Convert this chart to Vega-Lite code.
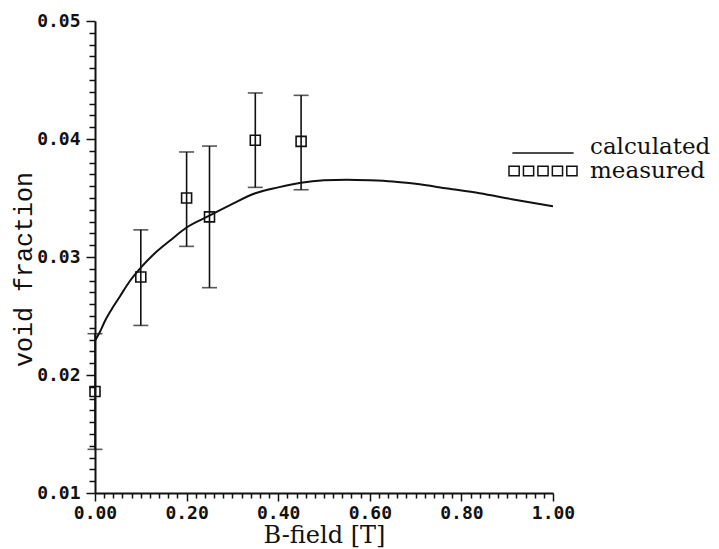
{
  "$schema": "https://vega.github.io/schema/vega-lite/v6.json",
  "width": 458,
  "height": 472,
  "autosize": {"type": "none"},
  "padding": {"left": 95, "top": 21, "right": 166, "bottom": 56},
  "background": "white",
  "datasets": {
    "calc": [
      {"B": 0.0, "v": 0.0229},
      {"B": 0.01, "v": 0.0236},
      {"B": 0.022, "v": 0.0246},
      {"B": 0.04, "v": 0.0258},
      {"B": 0.055, "v": 0.0267},
      {"B": 0.075, "v": 0.0279},
      {"B": 0.1, "v": 0.0291},
      {"B": 0.13, "v": 0.0303},
      {"B": 0.164, "v": 0.0314},
      {"B": 0.2, "v": 0.0325},
      {"B": 0.25, "v": 0.0335},
      {"B": 0.3, "v": 0.0345},
      {"B": 0.35, "v": 0.0354},
      {"B": 0.4, "v": 0.0359},
      {"B": 0.45, "v": 0.0363},
      {"B": 0.5, "v": 0.0365},
      {"B": 0.55, "v": 0.03655},
      {"B": 0.6, "v": 0.0365},
      {"B": 0.65, "v": 0.0364},
      {"B": 0.7, "v": 0.0362},
      {"B": 0.77, "v": 0.0358},
      {"B": 0.84, "v": 0.0354},
      {"B": 0.91, "v": 0.0349},
      {"B": 1.0, "v": 0.0343}
    ],
    "meas": [
      {"B": 0.0, "v": 0.0186, "lo": 0.0137, "hi": 0.0235},
      {"B": 0.1, "v": 0.0283, "lo": 0.0242, "hi": 0.0323},
      {"B": 0.2, "v": 0.035, "lo": 0.0309, "hi": 0.0389},
      {"B": 0.25, "v": 0.0334, "lo": 0.0274, "hi": 0.0394},
      {"B": 0.35, "v": 0.0399, "lo": 0.0359, "hi": 0.0439},
      {"B": 0.45, "v": 0.0398, "lo": 0.0357, "hi": 0.0437}
    ]
  },
  "layer": [
    {
      "data": {"name": "calc"},
      "mark": {"type": "line", "interpolate": "monotone", "strokeWidth": 2},
      "encoding": {
        "x": {
          "field": "B", "type": "quantitative",
          "scale": {"domain": [0, 1], "nice": false, "zero": false},
          "axis": {
            "orient": "bottom",
            "values": [0, 0.2, 0.4, 0.6, 0.8, 1.0],
            "format": ".2f",
            "grid": false,
            "labelFlush": false,
            "labelOverlap": false,
            "tickSize": 8, "tickWidth": 1.5, "tickColor": "#111",
            "domainColor": "#111", "domainWidth": 2,
            "labelPadding": 3,
            "labelFont": "DejaVu Sans Mono", "labelFontWeight": "bold", "labelFontSize": 18, "labelColor": "#111",
            "title": "B-field [T]",
            "titleFont": "DejaVu Serif", "titleFontSize": 24, "titleFontWeight": "normal", "titleColor": "#111",
            "titlePadding": 1
          }
        },
        "y": {
          "field": "v", "type": "quantitative",
          "scale": {"domain": [0.01, 0.05], "nice": false, "zero": false},
          "axis": {
            "orient": "left",
            "values": [0.01, 0.02, 0.03, 0.04, 0.05],
            "format": ".2f",
            "grid": false,
            "labelFlush": false,
            "labelOverlap": false,
            "tickSize": 9, "tickWidth": 1.5, "tickColor": "#111",
            "domainColor": "#111", "domainWidth": 2,
            "labelPadding": 6,
            "labelFont": "DejaVu Sans Mono", "labelFontWeight": "bold", "labelFontSize": 18, "labelColor": "#111",
            "title": "void fraction",
            "titleFont": "Liberation Mono", "titleFontSize": 25, "titleFontWeight": "normal", "titleColor": "#111",
            "titlePadding": 0,
            "titleY": 248
          }
        },
        "color": {
          "datum": "calculated",
          "scale": {"domain": ["calculated", "measured"], "range": ["#111", "#111"]},
          "legend": {
            "orient": "none",
            "legendX": 413,
            "legendY": 114,
            "title": null,
            "padding": 0,
            "labelFont": "DejaVu Serif",
            "labelFontSize": 23,
            "labelColor": "#111",
            "labelOffset": 12,
            "symbolSize": 4624,
            "clipHeight": 24,
            "rowPadding": 0,
            "encode": {
              "symbols": {
                "update": {
                  "shape": {"signal": "datum.value === 'calculated' ? 'M-0.9,0.18L0.9,0.18' : 'M-1,-0.14h0.3v0.28h-0.3z M-0.575,-0.14h0.3v0.28h-0.3z M-0.15,-0.14h0.3v0.28h-0.3z M0.275,-0.14h0.3v0.28h-0.3z M0.7,-0.14h0.3v0.28h-0.3z'"},
                  "stroke": {"value": "#111"},
                  "fill": {"value": "transparent"},
                  "strokeWidth": {"value": 1.5},
                  "opacity": {"value": 1}
                }
              }
            }
          }
        }
      }
    },
    {
      "data": {"name": "meas"},
      "mark": {"type": "rule", "strokeWidth": 1.6, "color": "#111"},
      "encoding": {
        "x": {"field": "B", "type": "quantitative", "axis": null},
        "y": {"field": "lo", "type": "quantitative", "axis": null},
        "y2": {"field": "hi"}
      }
    },
    {
      "data": {"name": "meas"},
      "mark": {"type": "tick", "orient": "horizontal", "size": 15, "thickness": 1.6, "color": "#111"},
      "encoding": {
        "x": {"field": "B", "type": "quantitative", "axis": null},
        "y": {"field": "lo", "type": "quantitative", "axis": null}
      }
    },
    {
      "data": {"name": "meas"},
      "mark": {"type": "tick", "orient": "horizontal", "size": 15, "thickness": 1.6, "color": "#111"},
      "encoding": {
        "x": {"field": "B", "type": "quantitative", "axis": null},
        "y": {"field": "hi", "type": "quantitative", "axis": null}
      }
    },
    {
      "data": {"name": "meas"},
      "mark": {"type": "point", "shape": "square", "filled": false, "size": 100, "strokeWidth": 1.6, "opacity": 1},
      "encoding": {
        "x": {
          "field": "B", "type": "quantitative",
          "axis": {
            "orient": "bottom",
            "values": [0.02, 0.04, 0.06, 0.08, 0.1, 0.12, 0.14, 0.16, 0.18, 0.22, 0.24, 0.26, 0.28, 0.3, 0.32, 0.34, 0.36, 0.38, 0.42, 0.44, 0.46, 0.48, 0.5, 0.52, 0.54, 0.56, 0.58, 0.62, 0.64, 0.66, 0.68, 0.7, 0.72, 0.74, 0.76, 0.78, 0.82, 0.84, 0.86, 0.88, 0.9, 0.92, 0.94, 0.96, 0.98],
            "grid": false, "labels": false, "domain": false, "title": null,
            "tickSize": 5, "tickWidth": 1.5, "tickColor": "#111"
          }
        },
        "y": {
          "field": "v", "type": "quantitative",
          "axis": {
            "orient": "left",
            "values": [0.011, 0.012, 0.013, 0.014, 0.015, 0.016, 0.017, 0.018, 0.019, 0.021, 0.022, 0.023, 0.024, 0.025, 0.026, 0.027, 0.028, 0.029, 0.031, 0.032, 0.033, 0.034, 0.035, 0.036, 0.037, 0.038, 0.039, 0.041, 0.042, 0.043, 0.044, 0.045, 0.046, 0.047, 0.048, 0.049],
            "grid": false, "labels": false, "domain": false, "title": null,
            "tickSize": 6, "tickWidth": 1.5, "tickColor": "#111"
          }
        },
        "color": {"datum": "measured"}
      }
    }
  ],
  "resolve": {"axis": {"x": "independent", "y": "independent"}},
  "config": {
    "view": {"stroke": null},
    "axis": {"grid": false}
  }
}
